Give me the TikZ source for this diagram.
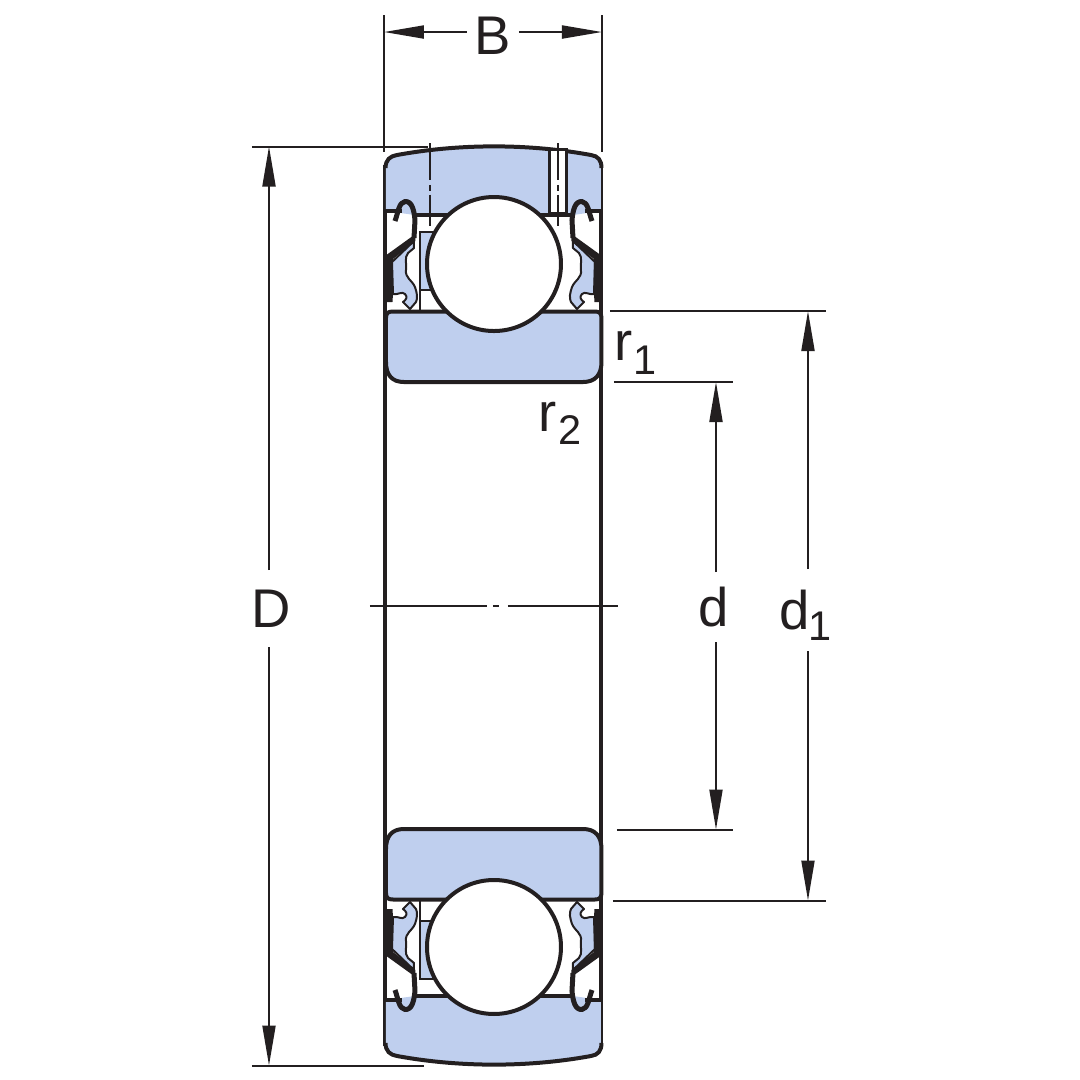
\documentclass[tikz,border=0pt]{standalone}
\usepackage{fontspec}
\setmainfont{Liberation Sans}
\usetikzlibrary{arrows.meta}
\definecolor{cring}{RGB}{191,207,238}
\definecolor{cink}{RGB}{35,31,32}
\tikzset{
  outline/.style={draw=cink,line width=0.4mm,line join=round},
  thinline/.style={draw=cink,line width=0.2mm},
  dimline/.style={draw=cink,line width=0.2mm,-{Stealth[length=4mm,width=1.3mm,inset=0pt]}},
  dimlabel/.style={text=cink,font=\fontsize{15.5}{15.5}\selectfont,inner sep=0pt,outer sep=0pt},
  sublabel/.style={text=cink,font=\fontsize{11.8}{12}\selectfont,inner sep=0pt,outer sep=0pt},
  axisdash/.style={thinline,dash pattern=on 10.5pt off 1.4pt on 1.7pt off 1.1pt},
}
% one seal with its hook, at the left of the upper section
\newcommand{\sealhalf}{
  \path[fill=cring,draw=cink,line width=0.2mm,line join=round] (414,241) -- (414,248) -- (408,253)
    .. controls (404,258) and (407,264) .. (406,270)
    .. controls (405,278) and (412,280) .. (415,287)
    .. controls (417,293) and (418,298) .. (416,302) -- (410,309) -- (403,302)
    .. controls (406,300) and (408,297) .. (405,294)
    .. controls (402,291) and (398,295) .. (393,294) -- (392,262) -- cycle;
  \path[draw=cink,line width=0.5mm,line join=round] (395,221)
    .. controls (398,213) and (399,202) .. (405,201.5)
    .. controls (412,201) and (414,210) .. (415,220) -- (414,238);
  \path[fill=cink] (415.5,234) -- (415.5,241) -- (393,259) -- (393,294) -- (392.5,302) -- (385,302)
    -- (385,256) -- cycle;
}
% rings, cage, seals and ball of the upper section
\newcommand{\ringsection}{
  \path[fill=cring] (386,211) -- (386,168) .. controls (386,160) and (390,156) .. (397,155)
    .. controls (460,143) and (528,143) .. (591,155)
    .. controls (598,156) and (601,160) .. (601,168) -- (601,211) -- (573,215) -- (415,215) -- cycle;
  \draw[outline] (385.5,168) .. controls (385.5,160) and (390,156) .. (397,155)
    .. controls (460,143.5) and (528,143.5) .. (591,155)
    .. controls (598,156) and (601.5,160) .. (601.5,168);
  \draw[outline] (385.5,211) -- (402,211);
  \draw[outline] (585,211) -- (601.5,211);
  \draw[outline] (412,215) -- (575,215);
  \path[outline,fill=cring] (386,362) -- (386,318) .. controls (386,313) and (388,311.5) .. (393,311.5)
    -- (595,311.5) .. controls (599,311.5) and (601.5,313) .. (601.5,318)
    -- (601.5,362) .. controls (601.5,375) and (595,382) .. (583,382)
    -- (404,382) .. controls (392,382) and (386,375) .. (386,362) -- cycle;
  \path[fill=cring,draw=cink,line width=0.2mm] (420,232) rectangle (450,290);
  \draw[thinline] (420,290) -- (420,311);
  \sealhalf
  \begin{scope}[xshift=98.7mm,xscale=-1]
    \sealhalf
  \end{scope}
  \path[outline,fill=white] (494,264) circle [radius=67];
}
\begin{document}
\begin{tikzpicture}[x=0.1mm,y=-0.1mm]
  \useasboundingbox (0,0) rectangle (1080,1080);

  % bore and outer edges
  \draw[outline] (385.5,165) -- (385.5,1046);
  \draw[outline] (601.5,165) -- (601.5,1046);

  % upper section with oil hole
  \ringsection
  \path[fill=white,draw=cink,line width=0.3mm] (550,149) rectangle (567,213.5);
  \draw[axisdash] (430.5,143) -- (430.5,226);
  \draw[axisdash] (558.5,143) -- (558.5,226);

  % lower section, same shapes upside down
  \begin{scope}[yshift=-121.1mm,yscale=-1]
    \ringsection
  \end{scope}

  % axis
  \draw[thinline] (370,605.5) -- (487,605.5);
  \draw[thinline] (493,605.5) -- (499,605.5);
  \draw[thinline] (508,605.5) -- (618,605.5);

  % extension lines
  \coordinate (Bleft) at (384,32);
  \coordinate (Bright) at (602,32);
  \coordinate (Dtop) at (269,146.5);
  \coordinate (Dbot) at (269,1065.5);
  \coordinate (dtop) at (716,382);
  \coordinate (dbot) at (716,829.5);
  \coordinate (donetop) at (808,311);
  \coordinate (donebot) at (808,900.5);
  \draw[thinline] (384,15) -- (384,152);
  \draw[thinline] (602,15) -- (602,152);
  \draw[thinline] (252,146.5) -- (428,146.5);
  \draw[thinline] (252,1065.5) -- (424,1065.5);
  \draw[thinline] (614,382) -- (733,382);
  \draw[thinline] (617,829.5) -- (733,829.5);
  \draw[thinline] (610,311) -- (826,311);
  \draw[thinline] (613,900.5) -- (826,900.5);

  % labels and dimensions
  \node[dimlabel,minimum width=5.2mm] (Blabel) at (493,36) {B};
  \node[dimlabel,minimum height=7.7mm] (Dlabel) at (271,608.5) {D};
  \node[dimlabel,minimum height=7mm] (dlabel) at (714,607) {d};
  \node[dimlabel,minimum height=8.2mm] (donelabel) at (795,610) {d};
  \node[sublabel] (donesub) at (820.5,626) {1};
  \node[dimlabel] (ronelabel) at (624,346) {r};
  \node[sublabel] (ronesub) at (645,360) {1};
  \node[dimlabel] (rtwolabel) at (548,417) {r};
  \node[sublabel] (rtwosub) at (570,430) {2};
  \draw[dimline] (Blabel.west |- Bleft) -- (Bleft);
  \draw[dimline] (Blabel.east |- Bright) -- (Bright);
  \draw[dimline] (Dlabel.north -| Dtop) -- (Dtop);
  \draw[dimline] (Dlabel.south -| Dbot) -- (Dbot);
  \draw[dimline] (dlabel.north -| dtop) -- (dtop);
  \draw[dimline] (dlabel.south -| dbot) -- (dbot);
  \draw[dimline] (donelabel.north -| donetop) -- (donetop);
  \draw[dimline] (donelabel.south -| donebot) -- (donebot);
\end{tikzpicture}
\end{document}
